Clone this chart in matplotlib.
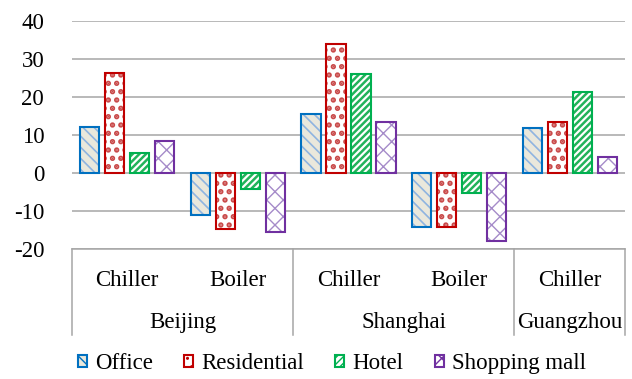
import matplotlib
matplotlib.use("Agg")
import matplotlib.pyplot as plt
import matplotlib.transforms as mtransforms
from matplotlib.patches import Patch
import numpy as np

plt.rcParams["font.family"] = ["Liberation Serif", "DejaVu Serif"]
plt.rcParams["axes.unicode_minus"] = False

groups = ["Chiller", "Boiler", "Chiller", "Boiler", "Chiller"]
cities = ["Beijing", "Shanghai", "Guangzhou"]
city_spans = [(0, 1), (2, 3), (4, 4)]

office = [12.3, -11.0, 15.7, -14.1, 11.8]
residential = [26.4, -14.7, 33.9, -14.0, 13.5]
hotel = [5.4, -4.1, 26.2, -5.2, 21.4]
shopping = [8.6, -15.4, 13.6, -17.9, 4.4]

series = [
    # label, values, face, hatch, hatch colour, edge, hatch lw
    ("Office", office, "#EAE8DC", "\\\\\\", "#8FB4E0", "#0070C0", 1.2),
    ("Residential", residential, "white", "..", "#C94A4A", "#C00000", 2.6),
    ("Hotel", hotel, "white", "/////", "#22B35A", "#00B050", 1.8),
    ("Shopping mall", shopping, "white", "xx", "#A58BC9", "#7030A0", 1.0),
]

fig = plt.figure(figsize=(6.32, 3.79), dpi=100)
ax = fig.add_axes([72 / 632, 1 - 249.3 / 379, 553 / 632, 228 / 379])

x = np.arange(len(groups))
width = 0.172
pitch = 0.226
grid_col = "#A6A6A6"

ax.set_axisbelow(True)
ax.yaxis.grid(True, color=grid_col, linewidth=1.1)

handles = []
for i, (label, vals, face, hatch, hcol, ecol, hlw) in enumerate(series):
    pos = x + (i - 1.5) * pitch
    with plt.rc_context({"hatch.linewidth": hlw}):
        bars = ax.bar(pos, vals, width, color=face, hatch=hatch,
                      edgecolor=hcol, linewidth=0, zorder=2)
    for b in bars:
        if hasattr(b, "set_hatch_linewidth"):
            b.set_hatch_linewidth(hlw)
    ax.bar(pos, vals, width, fill=False, edgecolor=ecol, linewidth=1.5, zorder=3)
    with plt.rc_context({"hatch.linewidth": hlw}):
        h = Patch(facecolor=face, edgecolor=ecol, hatch=hatch, linewidth=1.5)
    handles.append(h)

ax.set_xlim(-0.5, 4.5)
ax.set_ylim(-20, 40)
ax.set_yticks(np.arange(-20, 41, 10))
ax.tick_params(axis="y", length=0, pad=20, labelsize=16.5)
ax.set_xticks([])
for s in ["top", "right", "left"]:
    ax.spines[s].set_visible(False)
ax.spines["bottom"].set_color(grid_col)
ax.spines["bottom"].set_linewidth(1.1)

# two-level category axis
trans = mtransforms.blended_transform_factory(ax.transData, ax.transAxes)
for xi, g in zip(x, groups):
    ax.text(xi, -0.163, g, transform=trans, ha="center", va="baseline", fontsize=16.5)
for (a, b), city in zip(city_spans, cities):
    ax.text((a + b) / 2, -0.343, city, transform=trans, ha="center", va="baseline", fontsize=16.5)
for xs in [-0.5, 1.5, 3.5, 4.5]:
    ax.plot([xs, xs], [0, -0.376], transform=trans, color=grid_col, linewidth=1.1, clip_on=False)

fig.legend(handles, [s[0] for s in series], loc="center", bbox_to_anchor=(0.525, 0.04),
           ncol=4, frameon=False, fontsize=16.5, handlelength=0.4, handleheight=0.4,
           handletextpad=0.35, columnspacing=1.37, borderpad=0)

fig.savefig("out.png", dpi=100)
